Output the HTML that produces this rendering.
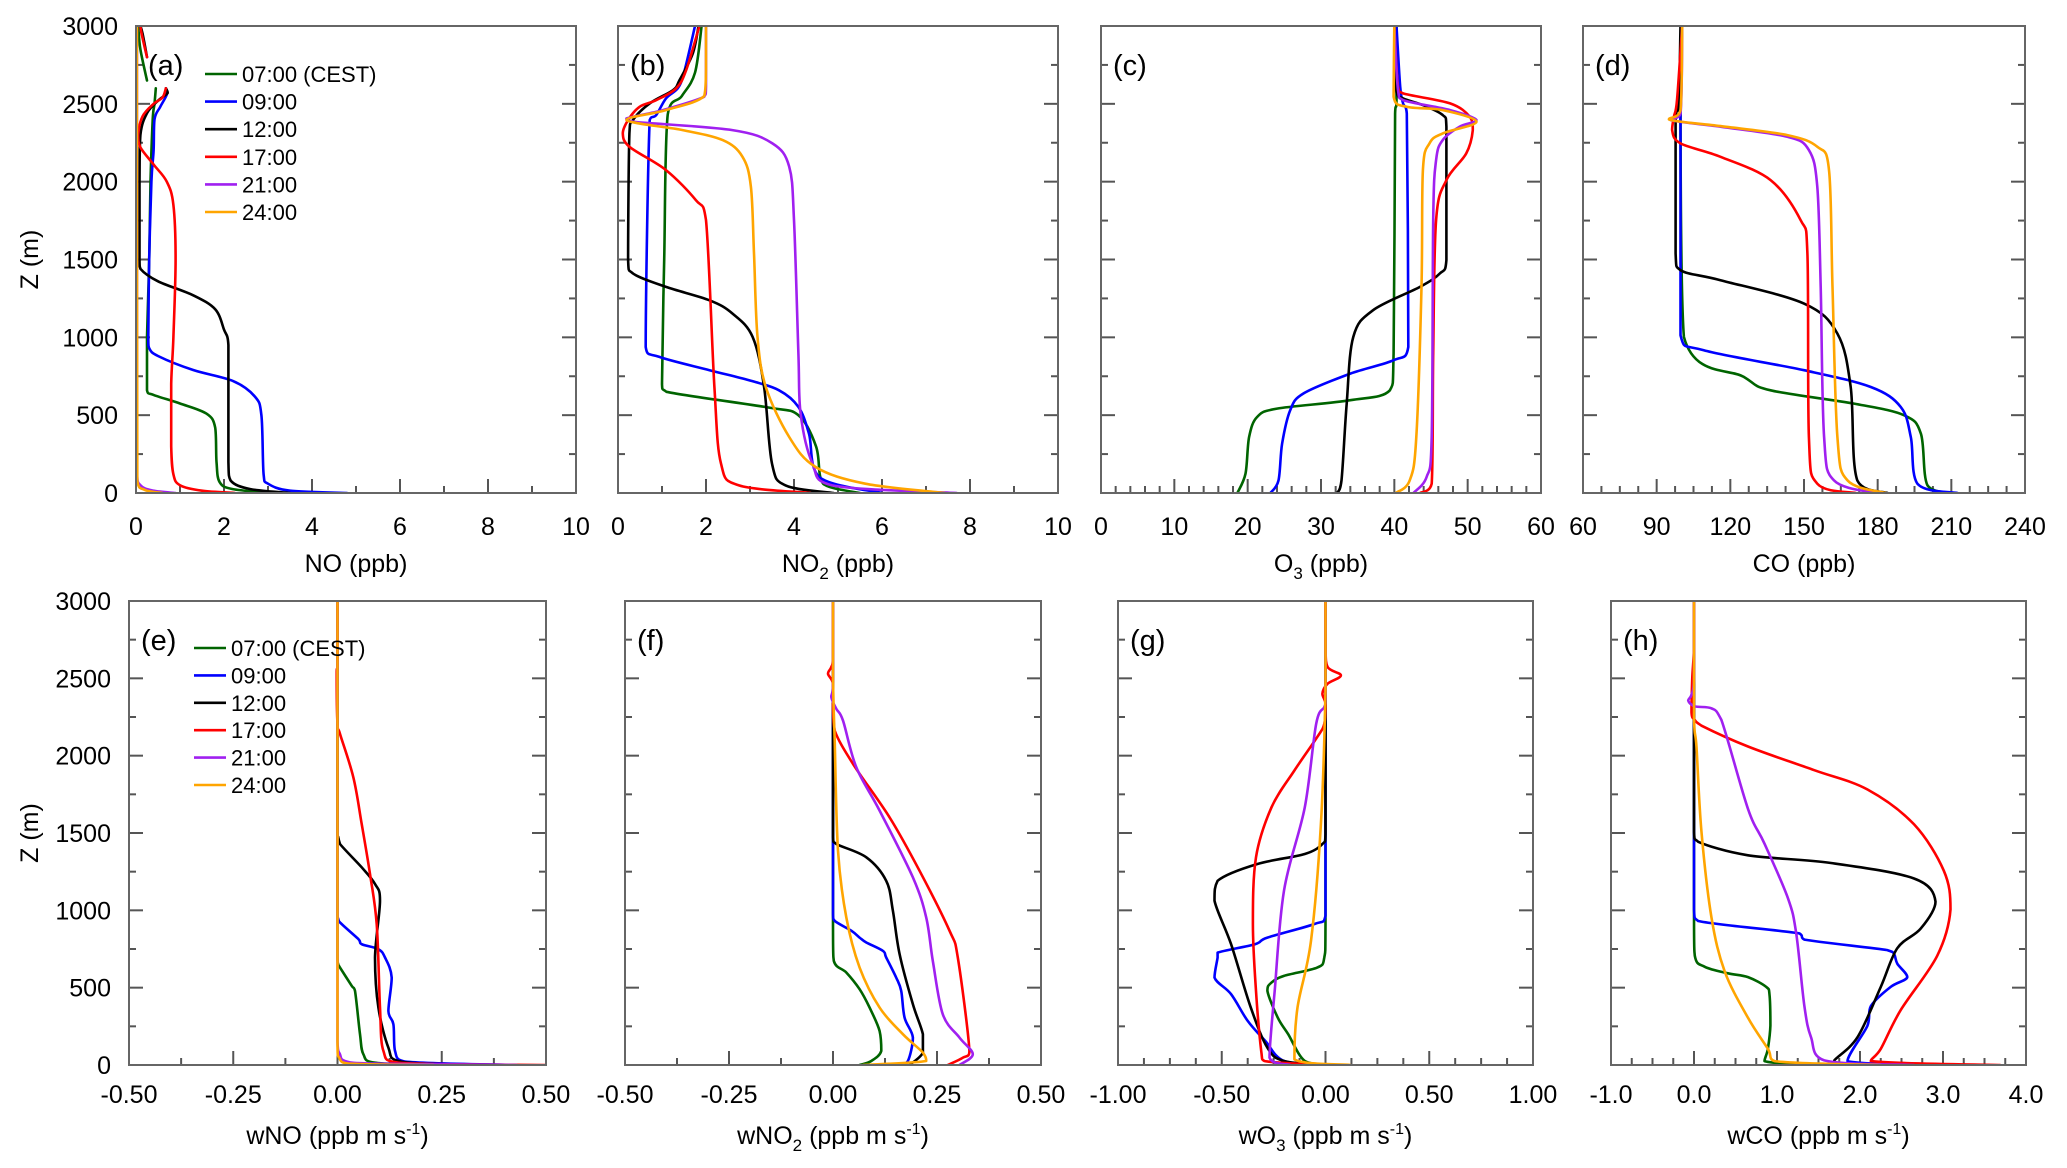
<!DOCTYPE html>
<html><head><meta charset="utf-8"><style>
html,body{margin:0;padding:0;background:#fff;}
svg{display:block;font-family:"Liberation Sans",Arial,sans-serif;}
</style></head><body>
<svg id="fig" width="2067" height="1168" viewBox="0 0 2067 1168" xmlns="http://www.w3.org/2000/svg"></svg>
<script>
// ---------- data (x value, height m); null = gap ----------
const seriesNames = ['07:00 (CEST)','09:00','12:00','17:00','21:00','24:00'];
const seriesColors = ['#006400','#0000ff','#000000','#ff0000','#a020f0','#ffa500'];
// (a) NO
const noG = [[3.1,0],[2.2,25],[1.9,70],[1.83,200],[1.8,420],[1.6,510],[1.0,575],[0.4,630],[0.25,660],[0.25,1000],[0.3,1500],[0.33,2000],[0.38,2400],[0.42,2500],[0.45,2600],null,[0.25,2650],[0.1,2850],[0.05,3000]];
const noB = [[4.8,0],[3.5,15],[3.0,60],[2.9,120],[2.85,500],[2.7,620],[2.2,720],[1.3,790],[0.5,880],[0.3,930],[0.28,1000],[0.3,1500],[0.35,2000],[0.4,2200],[0.42,2400],[0.55,2480],[0.7,2560],[0.68,2600]];
const noK = [[3.5,0],[2.6,25],[2.15,80],[2.1,200],[2.1,600],[2.1,950],[2.0,1050],[1.8,1180],[1.3,1270],[0.5,1360],[0.1,1440],[0.08,1500],[0.08,2000],[0.1,2300],[0.25,2440],[0.5,2520],[0.72,2570],[0.68,2600],null,[0.25,2800],[0.15,2950],[0.1,3000]];
const noR = [[2.25,0],[1.5,15],[1.0,50],[0.85,120],[0.8,300],[0.8,700],[0.85,1000],[0.9,1500],[0.85,1850],[0.7,2000],[0.4,2110],[0.1,2220],[0.05,2300],[0.15,2420],[0.4,2500],[0.6,2540],[0.68,2600],null,[0.25,2800],[0.12,2960],[0.1,3000]];
const noP = [[0.9,0],[0.4,15],[0.1,50],[0.02,150],[0.02,3000]];
const noO = [[0.6,0],[0.2,20],[0.03,80],[0.02,3000]];
// (b) NO2
const no2G = [[5.5,0],[4.8,40],[4.6,100],[4.5,300],[4.1,500],[3.4,550],[1.1,650],[1.0,700],[1.05,1500],[1.13,2430],[1.45,2550],[1.75,2700],[1.9,3000]];
const no2B = [[6.0,0],[4.57,103],[4.34,381],[4.1,553],[3.66,660],[2.98,724],[2.08,789],[0.94,874],[0.63,938],[0.72,2396],[0.87,2428],[1.09,2535],[1.36,2600],[1.5,2700],[1.75,3000]];
const no2K = [[4.9,0],[3.81,49],[3.5,189],[3.32,681],[3.06,1003],[2.6,1153],[2.08,1238],[1.09,1324],[0.34,1410],[0.23,1496],[0.26,2310],[0.34,2396],[0.72,2503],[1.25,2588],[1.4,2653],[1.7,2824],[1.83,3000]];
const no2R = [[4.38,0],[2.75,49],[2.34,189],[2.19,681],[2.0,1753],[1.77,1881],[1.09,2074],[0.26,2224],[0.11,2310],[0.23,2396],[0.49,2481],[0.87,2524],[1.32,2599],[1.55,2717],[1.85,3000]];
const no2P = [[7.7,0],[4.87,49],[4.42,189],[4.15,510],[4.1,896],[4.0,1753],[3.89,2096],[3.51,2246],[2.6,2331],[0.34,2385],[0.19,2406],[1.02,2460],[1.96,2546],[2.0,2610],[2.0,3000]];
const no2O = [[7.43,0],[5.62,60],[4.49,167],[3.89,360],[3.36,681],[3.17,1003],[3.09,1539],[3.02,1967],[2.83,2160],[2.38,2267],[1.47,2331],[0.19,2396],[1.09,2460],[1.96,2550],[2.0,2717],[2.0,3000]];
// (c) O3
const o3G = [[18.6,0],[19.7,124],[20.2,360],[21.3,489],[24.0,542],[34.0,596],[39.4,660],[39.9,896],[40.1,2438],[40.3,2524],[40.3,3000]];
const o3B = [[23.1,0],[24.2,81],[24.7,317],[25.8,531],[27.6,639],[34.0,767],[39.9,853],[41.9,938],[41.7,2438],[41.2,2503],[40.8,2610],[40.3,3000]];
const o3K = [[32.2,0],[32.8,81],[33.5,574],[34.4,1003],[37.1,1174],[43.5,1324],[46.2,1410],[47.1,1496],[47.1,2353],[46.6,2428],[43.9,2492],[41.2,2535],[40.3,2578],[40.0,3000]];
const o3R = [[43.5,0],[45.1,60],[45.3,896],[45.7,1753],[47.1,2010],[49.8,2181],[50.7,2331],[50.3,2417],[47.6,2503],[41.2,2567],[40.5,2610],[40.0,3000]];
const o3P = [[42.6,0],[44.4,103],[45.1,360],[45.3,1753],[45.7,2139],[46.6,2267],[48.9,2353],[51.2,2396],[47.6,2460],[41.2,2524],[40.5,2588],[40.0,3000]];
const o3O = [[40.2,0],[42.1,81],[43.0,360],[43.7,1324],[43.9,2074],[44.8,2246],[46.6,2310],[51.2,2385],[46.6,2460],[41.7,2481],[39.9,2546],[40.0,3000]];
// (d) CO
const coG = [[209.8,0],[200.3,49],[197.6,381],[190.8,499],[170.4,574],[136.4,660],[125.5,746],[101.1,1003],[99.7,2396],[100.4,3000]];
const coB = [[212.5,0],[196.2,60],[193.5,360],[189.4,553],[177.2,681],[150.0,789],[109.2,917],[99.7,1013],[99.7,2503],[100.4,3000]];
const coK = [[184.0,0],[171.7,81],[169.0,681],[163.6,1024],[150.0,1217],[116.0,1367],[99.7,1431],[97.7,1539],[97.7,2396],[99.0,2503],[99.7,3000]];
const coR = [[171.1,0],[155.4,60],[152.0,360],[151.4,1539],[148.6,1753],[136.4,2010],[116.0,2160],[99.7,2246],[96.3,2331],[97.0,2417],[98.3,2524],[100.4,3000]];
const coP = [[179.2,0],[162.2,81],[158.2,360],[156.8,1324],[155.4,1967],[152.0,2203],[143.2,2288],[116.0,2353],[95.6,2396],[99.7,2438],[100.4,3000]];
const coO = [[183.3,0],[167.7,81],[163.6,360],[161.6,1324],[160.2,2074],[155.4,2224],[143.2,2299],[116.0,2357],[95.0,2400],[99.7,2460],[100.4,3000]];
// (e) wNO
const wnoG = [[0.234,0],[0.09,15],[0.062,69],[0.054,199],[0.042,479],[0.034,512],[0.006,630],[0.002,650],[0,700],[0,3000]];
const wnoB = [[0.42,0],[0.162,22],[0.138,91],[0.134,263],[0.122,350],[0.13,565],[0.114,695],[0.098,749],[0.058,781],[0.05,814],[0.01,911],[0.002,943],[0,1000],[0,3000]];
const wnoK = [[0.27,0],[0.146,26],[0.122,112],[0.098,371],[0.09,695],[0.102,1062],[0.09,1170],[0.058,1278],[0.006,1429],[0.002,1472],[0,1500],[0,3000]];
const wnoR = [[0.5,0],[0.146,15],[0.11,91],[0.102,371],[0.094,911],[0.078,1235],[0.058,1558],[0.038,1861],[0.006,2141],[0,2206],[-0.002,2530],[0,2600],[0,3000]];
const wnoP = [[0.43,0],[0.09,9],[0.018,26],[0.006,69],[0,155],[0,3000]];
const wnoO = [[0.23,0],[0.026,9],[0.004,47],[0,120],[0,3000]];
// (f) wNO2
const wno2G = [[0.064,0],[0.092,26],[0.116,91],[0.112,220],[0.088,371],[0.064,490],[0.032,598],[0.002,673],[0,911],[0,3000]];
const wno2B = [[0.16,0],[0.18,26],[0.192,177],[0.172,306],[0.164,479],[0.152,565],[0.128,695],[0.12,738],[0.08,792],[0.064,824],[0.044,868],[0.004,932],[0,976],[0,3000]];
const wno2K = [[0.184,0],[0.216,80],[0.216,199],[0.192,393],[0.16,717],[0.144,997],[0.128,1191],[0.08,1343],[0.008,1429],[0,1472],[0,3000]];
const wno2R = [[0.276,0],[0.312,47],[0.328,91],[0.3,695],[0.28,868],[0.208,1256],[0.136,1601],[0.048,1947],[0.004,2163],[0,2314],[0,2465],[-0.012,2530],[-0.004,2573],[0,2637],[0,3000]];
const wno2P = [[0.304,0],[0.336,69],[0.304,177],[0.264,328],[0.24,673],[0.224,954],[0.192,1213],[0.112,1645],[0.056,1925],[0.024,2227],[0.008,2303],[-0.004,2379],[0,2465],[0,3000]];
const wno2O = [[0.072,0],[0.224,26],[0.216,80],[0.168,199],[0.112,371],[0.064,630],[0.032,954],[0.012,1386],[0.004,2098],[0,2500],[0,3000]];
// (g) wO3
const wo3G = [[0.01,0],[-0.1,26],[-0.18,199],[-0.23,306],[-0.28,479],[-0.26,533],[-0.2,576],[-0.04,630],[-0.006,695],[0,911],[0,3000]];
const wo3B = [[-0.006,0],[-0.2,26],[-0.29,155],[-0.375,285],[-0.455,458],[-0.535,565],[-0.52,695],[-0.52,727],[-0.34,781],[-0.28,824],[-0.055,911],[0,965],[0,3000]];
const wo3K = [[0,0],[-0.2,26],[-0.28,112],[-0.36,371],[-0.455,781],[-0.535,1062],[-0.52,1191],[-0.33,1299],[-0.1,1364],[-0.015,1429],[0,1494],[0,3000]];
const wo3R = [[0.01,0],[-0.295,26],[-0.31,91],[-0.335,479],[-0.35,911],[-0.335,1343],[-0.26,1666],[-0.15,1904],[-0.04,2120],[-0.006,2206],[0,2335],[-0.015,2400],[0.01,2465],[0.074,2519],[0.01,2573],[0,2700],[0,3000]];
const wo3P = [[-0.17,0],[-0.27,47],[-0.245,479],[-0.2,1127],[-0.1,1666],[-0.045,2206],[-0.006,2314],[0,2357],[0,3000]];
const wo3O = [[0.12,0],[-0.15,37],[-0.135,371],[-0.07,803],[-0.022,1558],[0,2422],[0,3000]];
// (h) wCO
const wcoG = [[1.45,0],[0.85,25],[0.89,105],[0.92,255],[0.91,455],[0.87,505],[0.65,568],[0.41,593],[0.13,635],[0.01,706],[0,1006],[0,3000]];
const wcoB = [[3.17,0],[1.85,25],[2.09,255],[2.13,380],[2.37,505],[2.57,568],[2.45,655],[2.41,718],[2.33,743],[1.33,811],[1.27,851],[0.05,931],[0,1006],[0,3000]];
const wcoK = [[1.7,0],[1.69,30],[1.97,180],[2.25,505],[2.45,755],[2.73,881],[2.91,1056],[2.65,1206],[1.65,1306],[0.65,1356],[0.05,1443],[0,1506],[0,3000]];
const wcoR = [[3.69,0],[2.13,25],[2.25,105],[2.49,355],[2.93,706],[3.09,1006],[3.01,1256],[2.65,1556],[2.09,1781],[1.45,1906],[0.65,2059],[0.09,2194],[0.01,2231],[-0.03,2281],[-0.02,2507],[0,2700],[0,3000]];
const wcoP = [[2.65,0],[1.57,30],[1.41,180],[1.33,380],[1.23,856],[1.13,1081],[0.85,1431],[0.65,1656],[0.33,2231],[0.21,2306],[0.01,2319],[-0.07,2357],[-0.03,2394],[0,2507],[0,3000]];
const wcoO = [[2.25,0],[0.97,25],[0.89,105],[0.65,305],[0.37,605],[0.21,956],[0.09,1506],[0.03,2056],[0,2256],[0,3000]];
// tick labels
const yTickLabels = ['0','500','1000','1500','2000','2500','3000'];
const xTicksNO = ['0','2','4','6','8','10'];
const xTicksO3 = ['0','10','20','30','40','50','60'];
const xTicksCO = ['60','90','120','150','180','210','240'];
const xTicksW = ['-0.50','-0.25','0.00','0.25','0.50'];
const xTicksWO3 = ['-1.00','-0.50','0.00','0.50','1.00'];
const xTicksWCO = ['-1.0','0.0','1.0','2.0','3.0','4.0'];

// ---------- layout ----------
const NS = 'http://www.w3.org/2000/svg';
const svg = document.getElementById('fig');
const top0=26, top1=493, bot0=601, bot1=1065;
const panels = [
 {id:'a',x0:136,x1:576,y0:top0,y1:top1,min:0,max:10,nMinor:2,ticks:xTicksNO,title:['NO',null,' (ppb)'],data:[noG,noB,noK,noR,noP,noO],yl:true,leg:true},
 {id:'b',x0:618,x1:1058,y0:top0,y1:top1,min:0,max:10,nMinor:2,ticks:xTicksNO,title:['NO','2',' (ppb)'],data:[no2G,no2B,no2K,no2R,no2P,no2O]},
 {id:'c',x0:1101,x1:1541,y0:top0,y1:top1,min:0,max:60,nMinor:5,ticks:xTicksO3,title:['O','3',' (ppb)'],data:[o3G,o3B,o3K,o3R,o3P,o3O]},
 {id:'d',x0:1583,x1:2025,y0:top0,y1:top1,min:60,max:240,nMinor:4,ticks:xTicksCO,title:['CO',null,' (ppb)'],data:[coG,coB,coK,coR,coP,coO]},
 {id:'e',x0:129,x1:546,y0:bot0,y1:bot1,min:-0.5,max:0.5,nMinor:2,ticks:xTicksW,title:['wNO',null,' (ppb m s','-1',')'],data:[wnoG,wnoB,wnoK,wnoR,wnoP,wnoO],yl:true,leg:true},
 {id:'f',x0:625,x1:1041,y0:bot0,y1:bot1,min:-0.5,max:0.5,nMinor:2,ticks:xTicksW,title:['wNO','2',' (ppb m s','-1',')'],data:[wno2G,wno2B,wno2K,wno2R,wno2P,wno2O]},
 {id:'g',x0:1118,x1:1533,y0:bot0,y1:bot1,min:-1,max:1,nMinor:4,ticks:xTicksWO3,title:['wO','3',' (ppb m s','-1',')'],data:[wo3G,wo3B,wo3K,wo3R,wo3P,wo3O]},
 {id:'h',x0:1611,x1:2026,y0:bot0,y1:bot1,min:-1,max:4,nMinor:4,ticks:xTicksWCO,title:['wCO',null,' (ppb m s','-1',')'],data:[wcoG,wcoB,wcoK,wcoR,wcoP,wcoO]}
];
function mk(tag, attrs, parent){const e=document.createElementNS(NS,tag);for(const k in attrs)e.setAttribute(k,attrs[k]);(parent||svg).appendChild(e);return e;}
function clamp(v,a,b){const lo=Math.min(a,b),hi=Math.max(a,b);return Math.max(lo,Math.min(hi,v));}
// smooth path (Catmull-Rom, control points clamped to segment box)
function smooth(pts){
  if(pts.length<2) return '';
  let d='M'+pts[0][0].toFixed(1)+','+pts[0][1].toFixed(1);
  for(let i=0;i<pts.length-1;i++){
    const p0=pts[Math.max(0,i-1)],p1=pts[i],p2=pts[i+1],p3=pts[Math.min(pts.length-1,i+2)];
    let c1x=p1[0]+(p2[0]-p0[0])/6, c1y=p1[1]+(p2[1]-p0[1])/6;
    let c2x=p2[0]-(p3[0]-p1[0])/6, c2y=p2[1]-(p3[1]-p1[1])/6;
    c1x=clamp(c1x,p1[0],p2[0]); c2x=clamp(c2x,p1[0],p2[0]);
    c1y=clamp(c1y,p1[1],p2[1]); c2y=clamp(c2y,p1[1],p2[1]);
    d+='C'+c1x.toFixed(1)+','+c1y.toFixed(1)+' '+c2x.toFixed(1)+','+c2y.toFixed(1)+' '+p2[0].toFixed(1)+','+p2[1].toFixed(1);
  }
  return d;
}

panels.forEach(p=>{
  const g = mk('g',{});
  
  
  const sx = v => p.x0 + (v-p.min)/(p.max-p.min)*(p.x1-p.x0);
  const sy = z => p.y1 - z/3000*(p.y1-p.y0);
  const cp = mk('clipPath',{id:'clip-'+p.id},g);
  mk('rect',{x:p.x0,y:p.y0,width:p.x1-p.x0,height:p.y1-p.y0},cp);
  const tg = mk('g',{stroke:'#555','stroke-width':2},g);
  
  
  const nMaj = p.ticks.length-1;
  const step = (p.max-p.min)/nMaj;
  for(let i=0;i<=nMaj*p.nMinor;i++){
    const v = p.min + i*step/p.nMinor;
    const X = sx(v), len = (i%p.nMinor===0)?14:7;
    mk('line',{x1:X,x2:X,y1:p.y1,y2:p.y1-len},tg);
  }
  for(let i=0;i<=12;i++){
    const Y = sy(i*250), len = (i%2===0)?14:7;
    mk('line',{x1:p.x0,x2:p.x0+len,y1:Y,y2:Y},tg);
    mk('line',{x1:p.x1,x2:p.x1-len,y1:Y,y2:Y},tg);
  }
  p.ticks.forEach((t,i)=>{
    const tx = mk('text',{x:sx(p.min+i*step),y:(p.y1===top1?535:1103),'text-anchor':'middle','font-size':25,fill:'#000'},g);
    
    
    tx.textContent=t;
  });
  if(p.yl){
    yTickLabels.forEach((t,i)=>{
      const ty = mk('text',{x:p.x0-18,y:sy(i*500)+9,'text-anchor':'end','font-size':25,fill:'#000'},g);
      
      
      ty.textContent=t;
    });
    const cy=(p.y0+p.y1)/2;
    const yt = mk('text',{x:38,y:cy,'text-anchor':'middle','font-size':25,fill:'#000',transform:`rotate(-90 38 ${cy})`},g);
    
    
    yt.textContent='Z (m)';
  }
  const tt = mk('text',{x:(p.x0+p.x1)/2,y:(p.y1===top1?572:1144),'text-anchor':'middle','font-size':25,fill:'#000'},g);
  
  
  const tp=p.title;
  let s=mk('tspan',{},tt); s.textContent=tp[0];
  if(tp[1]){s=mk('tspan',{'font-size':17,dy:7},tt); s.textContent=tp[1]; s=mk('tspan',{dy:-7},tt); s.textContent=tp[2];}
  else {s=mk('tspan',{},tt); s.textContent=tp[2];}
  if(tp[3]){s=mk('tspan',{'font-size':16,dy:-10},tt); s.textContent=tp[3]; s=mk('tspan',{dy:10},tt); s.textContent=tp[4];}
  const sg = mk('g',{'clip-path':`url(#clip-${p.id})`,fill:'none','stroke-width':2.6,'stroke-linejoin':'round','stroke-linecap':'round'},g);
  p.data.forEach((arr,k)=>{
    let d='', seg=[];
    arr.forEach(pt=>{
      if(pt===null){d+=smooth(seg);seg=[];return;}
      seg.push([sx(pt[0]),sy(pt[1])]);
    });
    d+=smooth(seg);
    const path = mk('path',{d:d,stroke:seriesColors[k]},sg);
    
    
  });
  const fr = mk('rect',{x:p.x0,y:p.y0,width:p.x1-p.x0,height:p.y1-p.y0,fill:'none',stroke:'#666','stroke-width':2},g);
  
  
  const pl = mk('text',{x:p.x0+12,y:p.y0+49,'font-size':29,fill:'#000'},g);
  
  
  pl.textContent='('+p.id+')';
  if(p.leg){
    const lg = mk('g',{},g);
    
    
    const lx = p.id==='a'?205:194, ly0 = p.id==='a'?74:648, dy = p.id==='a'?27.6:27.4;
    seriesNames.forEach((n,k)=>{
      const y = ly0 + k*dy;
      const e = mk('g',{},lg);
      
      
      mk('line',{x1:lx,x2:lx+32,y1:y,y2:y,stroke:seriesColors[k],'stroke-width':2.6},e);
      const t = mk('text',{x:lx+37,y:y+8,'font-size':22,fill:'#000'},e);
      t.textContent=n;
    });
  }
});
</script>
</body></html>
